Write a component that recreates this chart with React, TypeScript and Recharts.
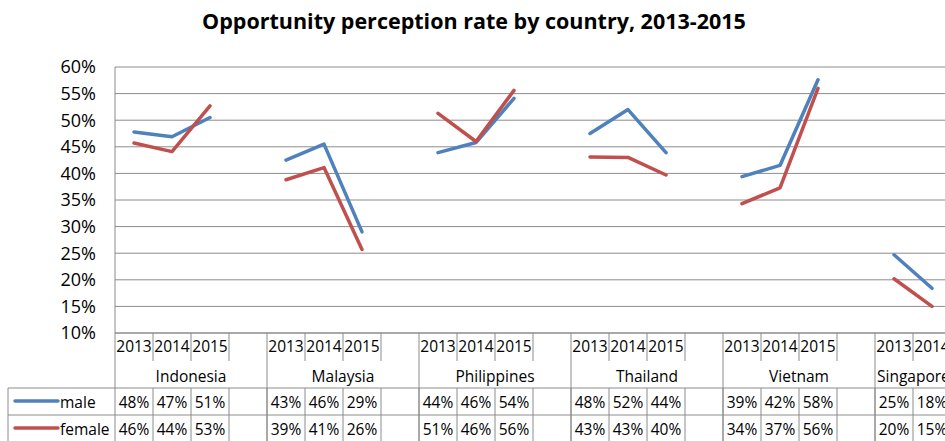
import { CartesianGrid, Line, LineChart, XAxis, YAxis } from "recharts";

const countries = ["Indonesia", "Malaysia", "Philippines", "Thailand", "Vietnam", "Singapore"];
const years = ["2013", "2014", "2015"];
const maleValues: (number | null)[][] = [
  [47.8, 46.9, 50.5],
  [42.5, 45.5, 29.0],
  [43.9, 45.8, 54.1],
  [47.5, 52.0, 43.9],
  [39.4, 41.5, 57.6],
  [24.7, 18.4, null],
];
const femaleValues: (number | null)[][] = [
  [45.7, 44.1, 52.7],
  [38.8, 41.1, 25.7],
  [51.3, 46.0, 55.6],
  [43.1, 43.0, 39.7],
  [34.3, 37.3, 56.0],
  [20.2, 15.0, null],
];
const yTicks = [10, 15, 20, 25, 30, 35, 40, 45, 50, 55, 60];

const MALE = "#4f81bd";
const FEMALE = "#c0504d";
const GRID = "#8c8c8c";
const FONT = "'Open Sans', sans-serif";

type Row = {
  slot: string;
  country: string;
  year: string;
  male: number | null;
  female: number | null;
};

// four slots per country: three years and an empty gap, like the Excel source
const rows: Row[] = countries.flatMap((country, c) =>
  [...years, ""].map((year, i) => ({
    slot: `${country}-${year || "gap"}`,
    country,
    year,
    male: year ? maleValues[c][i] : null,
    female: year ? femaleValues[c][i] : null,
  }))
);

const VIEW_W = 945;
const CHART_W = 1040;
const CHART_H = 441;
const AXIS_W = 115;
const RIGHT = 13;
const TABLE_H = 108;
const SLOT_W = (CHART_W - AXIS_W - RIGHT) / rows.length;

const pct = (v: number | null) => (v == null ? "" : `${Math.round(v)}%`);

function TableTick(props: any) {
  const { x, y, payload } = props;
  const row = rows[payload.index];
  if (!row) return null;
  const pos = payload.index % 4;
  const left = x - SLOT_W / 2;
  const right = x + SLOT_W / 2;
  const text = { fontFamily: FONT, fontSize: 15.5, fill: "#000", textAnchor: "middle" as const, dominantBaseline: "central" as const };
  // Excel pushes a group label that would run off the chart back to the group start
  const groupMid = left + SLOT_W * 2;
  const clipped = groupMid + 40 > VIEW_W;

  return (
    <g>
      {row.year && <text x={x} y={y + 13} {...text}>{row.year}</text>}
      {pos < 3 && <line x1={right} x2={right} y1={y} y2={y + 28} stroke={GRID} />}
      {pos === 0 && (
        <>
          <line x1={left} x2={left} y1={y} y2={y + TABLE_H} stroke={GRID} />
          <text
            x={clipped ? left + 2 : groupMid}
            y={y + 43}
            {...text}
            textAnchor={clipped ? "start" : "middle"}
          >
            {row.country}
          </text>
        </>
      )}
      <line x1={left} x2={right} y1={y + 55} y2={y + 55} stroke={GRID} />
      <line x1={left} x2={right} y1={y + 82} y2={y + 82} stroke={GRID} />
      <line x1={right} x2={right} y1={y + 55} y2={y + TABLE_H} stroke={GRID} />
      <text x={x} y={y + 69} {...text}>{pct(row.male)}</text>
      <text x={x} y={y + 96} {...text}>{pct(row.female)}</text>
      {payload.index === 0 && (
        <>
          <line x1={left - 107} x2={left} y1={y + 55} y2={y + 55} stroke={GRID} />
          <line x1={left - 107} x2={left} y1={y + 82} y2={y + 82} stroke={GRID} />
          <line x1={left - 107} x2={left - 107} y1={y + 55} y2={y + TABLE_H} stroke={GRID} />
          <line x1={left - 100} x2={left - 57} y1={y + 68} y2={y + 68} stroke={MALE} strokeWidth={3.5} strokeLinecap="round" />
          <line x1={left - 100} x2={left - 57} y1={y + 95} y2={y + 95} stroke={FEMALE} strokeWidth={3.5} strokeLinecap="round" />
          <text x={left - 55} y={y + 69} {...text} textAnchor="start">male</text>
          <text x={left - 55} y={y + 96} {...text} textAnchor="start">female</text>
        </>
      )}
    </g>
  );
}

export default function App() {
  return (
    <div
      style={{
        position: "absolute",
        left: 0,
        top: 0,
        width: VIEW_W,
        height: 441,
        overflow: "hidden",
        background: "#fff",
        fontFamily: FONT,
      }}
    >
      <div
        style={{
          position: "absolute",
          top: 6,
          left: 0,
          width: 948,
          textAlign: "center",
          fontSize: 21.5,
          fontWeight: 700,
          color: "#000",
        }}
      >
        Opportunity perception rate by country, 2013-2015
      </div>
      <LineChart
        width={CHART_W}
        height={CHART_H}
        data={rows}
        margin={{ top: 67, right: RIGHT, bottom: 0, left: 0 }}
      >
        <CartesianGrid vertical={false} stroke={GRID} />
        <XAxis
          dataKey="slot"
          height={TABLE_H}
          interval={0}
          padding={{ left: SLOT_W / 2, right: SLOT_W / 2 }}
          tickSize={0}
          tickMargin={0}
          tickLine={false}
          axisLine={{ stroke: GRID }}
          tick={<TableTick />}
        />
        <YAxis
          width={AXIS_W}
          domain={[10, 60]}
          ticks={yTicks}
          tickFormatter={(v) => `${v}%`}
          tickSize={0}
          tickMargin={19}
          tickLine={false}
          axisLine={{ stroke: GRID }}
          tick={{ fontFamily: FONT, fontSize: 18, fill: "#000" }}
        />
        <Line
          dataKey="male"
          type="linear"
          stroke={MALE}
          strokeWidth={3.5}
          strokeLinecap="round"
          strokeLinejoin="round"
          dot={false}
          activeDot={false}
          isAnimationActive={false}
        />
        <Line
          dataKey="female"
          type="linear"
          stroke={FEMALE}
          strokeWidth={3.5}
          strokeLinecap="round"
          strokeLinejoin="round"
          dot={false}
          activeDot={false}
          isAnimationActive={false}
        />
      </LineChart>
    </div>
  );
}
